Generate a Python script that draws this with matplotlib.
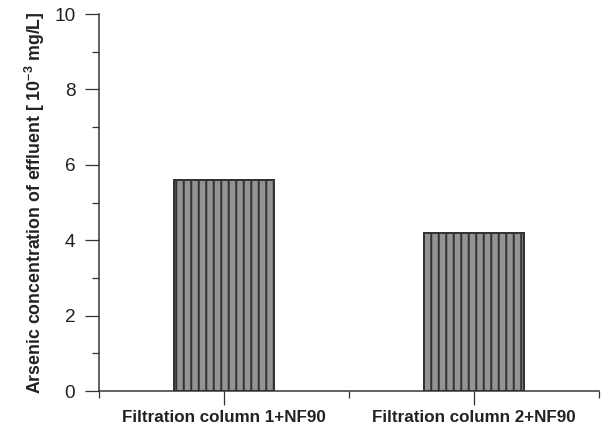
import numpy as np
import matplotlib
matplotlib.use("Agg")
import matplotlib.pyplot as plt
from matplotlib.ticker import MultipleLocator, FixedLocator

# --- data ---
categories = ["Filtration column 1+NF90", "Filtration column 2+NF90"]
arsenic = [5.6, 4.2]  # 10^-3 mg/L
y_ticks = [0, 2, 4, 6, 8, 10]

DPI = 90
plt.rcParams["font.family"] = ["Liberation Sans", "DejaVu Sans"]
plt.rcParams["mathtext.fontset"] = "custom"
plt.rcParams["mathtext.rm"] = "Liberation Sans"
plt.rcParams["mathtext.bf"] = "Liberation Sans:bold"
plt.rcParams["hatch.linewidth"] = 1.6
plt.rcParams["hatch.color"] = "#333333"

fig = plt.figure(figsize=(609 / DPI, 431 / DPI), dpi=DPI)
ax = fig.add_axes([0.1626, 0.0928, 0.821, 0.8747])

x = np.arange(len(categories))
ax.bar(x, arsenic, width=0.40, color="#939393", edgecolor="#333333",
       linewidth=1.6, hatch="||", zorder=2)

ax.set_xlim(-0.5, 1.5)
ax.set_ylim(0, 10)

for s in ["top", "right"]:
    ax.spines[s].set_visible(False)
for s in ["left", "bottom"]:
    ax.spines[s].set_color("#333333")
    ax.spines[s].set_linewidth(1.2)

ax.set_yticks(y_ticks)
ax.yaxis.set_minor_locator(MultipleLocator(1))
ax.set_xticks(x)
ax.set_xticklabels(categories, fontweight="bold", fontsize=13.6, color="#222222")
ax.xaxis.set_minor_locator(FixedLocator([-0.5, 0.5, 1.5]))

ax.tick_params(axis="both", which="major", direction="out", length=11,
               width=1.0, color="#333333")
ax.tick_params(axis="both", which="minor", direction="out", length=5.6,
               width=1.0, color="#333333")
ax.tick_params(axis="y", which="major", labelsize=15.2, labelcolor="#222222", pad=8)
ax.tick_params(axis="x", which="major", pad=4)

ax.set_ylabel("Arsenic concentration of effluent [ 10$^{\\mathbf{-3}}$ mg/L]",
              fontweight="bold", fontsize=14.2, color="#222222", labelpad=6)

fig.savefig("out.png", dpi=DPI)
